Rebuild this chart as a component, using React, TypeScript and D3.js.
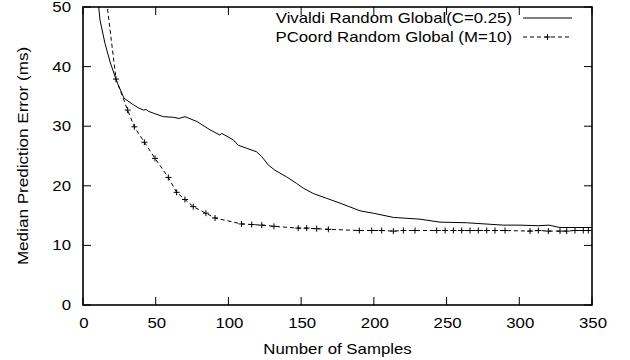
import React from 'react'
import * as d3 from 'd3'

// values
const vivaldiX = [9, 10.8, 11.7, 15.1, 18.6, 23.2, 28.2, 34.6, 38, 41.5, 43.5, 45, 48.3, 55.2, 62.1, 66, 70.1, 78.2, 87.3, 94.2, 95.4, 103.3, 106.8, 112.5, 119.4, 122.9, 127.4, 132, 140, 146.9, 151.5, 158.4, 167.5, 176.7, 190.5, 199.6, 213.4, 231.7, 245.5, 263.8, 289, 300.5, 313, 320.4, 328, 348.6, 350]
const vivaldiY = [54, 50, 47.8, 43.9, 40.8, 37.5, 34.7, 33.6, 33.1, 32.7, 32.8, 32.5, 32.2, 31.6, 31.5, 31.3, 31.6, 30.8, 29.4, 28.5, 28.8, 27.7, 26.8, 26.3, 25.7, 24.9, 23.5, 22.6, 21.5, 20.4, 19.6, 18.7, 17.9, 17.1, 15.8, 15.4, 14.7, 14.4, 13.9, 13.8, 13.4, 13.4, 13.3, 13.4, 13.0, 13.0, 13.0]

const pcoordX = [14, 22.7, 30.7, 35.3, 42.2, 49.5, 58.7, 64.4, 70.1, 75.8, 84.5, 90.8, 109, 116, 122.9, 131.3, 148, 153.8, 160.7, 168.7, 190, 198.5, 205.4, 213.4, 220.3, 228.3, 243.2, 249, 254.7, 260.4, 266.1, 271.8, 277.6, 283.3, 290.2, 307.4, 313.1, 320, 328, 332.6, 338.3, 344, 347.5]
const pcoordY = [55.5, 37.9, 32.7, 29.9, 27.3, 24.6, 21.4, 18.9, 17.7, 16.5, 15.4, 14.6, 13.6, 13.5, 13.4, 13.2, 12.9, 12.9, 12.8, 12.7, 12.5, 12.5, 12.5, 12.4, 12.5, 12.5, 12.5, 12.5, 12.5, 12.5, 12.5, 12.5, 12.5, 12.5, 12.5, 12.4, 12.5, 12.4, 12.4, 12.4, 12.5, 12.5, 12.5]

const xTicks = [0, 50, 100, 150, 200, 250, 300, 350]
const yTicks = [0, 10, 20, 30, 40, 50]
const seriesNames = ['Vivaldi Random Global(C=0.25)', 'PCoord Random Global (M=10)']

const W = 630
const H = 360
const margin = { top: 7, right: 38, bottom: 55, left: 83 }
const FONT = '"Liberation Sans", Arial, Helvetica, sans-serif'
const STRETCH = 1.2

// gnuplot text in the reference is a bit wide, so stretch along the run
function Label({ x, y, anchor = 'start', rotate = 0, sx = STRETCH, children }: any) {
  return (
    <text
      transform={`translate(${x},${y}) rotate(${rotate}) scale(${sx},1)`}
      textAnchor={anchor}
      fontFamily={FONT}
      fontSize={14}
      fill="#000"
    >
      {children}
    </text>
  )
}

export default function App() {
  const x = d3.scaleLinear().domain([0, 350]).range([margin.left, W - margin.right])
  const y = d3.scaleLinear().domain([0, 50]).range([H - margin.bottom, margin.top])

  const vivaldi = vivaldiX.map((v, i) => [v, vivaldiY[i]] as [number, number])
  const pcoord = pcoordX.map((v, i) => [v, pcoordY[i]] as [number, number])

  const line = d3.line<[number, number]>().x(d => x(d[0])).y(d => y(d[1]))

  const x0 = x(0), x1 = x(350), y0 = y(0), y1 = y(50)
  const TL = 8

  const plus = (cx: number, cy: number, r = 3) =>
    `M${cx - r},${cy}H${cx + r}M${cx},${cy - r}V${cy + r}`

  const legX = 512
  const legLine = [523, 572]
  const legY = [18, 37]

  return (
    <svg width={W} height={H} style={{ position: 'absolute', left: 0, top: 0, background: '#fff' }}>
      <defs>
        <clipPath id="plot">
          <rect x={x0} y={y1} width={x1 - x0} height={y0 - y1} />
        </clipPath>
      </defs>
      <rect width={W} height={H} fill="#fff" />

      {/* ticks on all four sides, pointing inward */}
      <g stroke="#000" strokeWidth={1}>
        {xTicks.map(t => (
          <g key={'xt' + t}>
            <line x1={x(t)} x2={x(t)} y1={y0} y2={y0 - TL} />
            <line x1={x(t)} x2={x(t)} y1={y1} y2={y1 + TL} />
          </g>
        ))}
        {yTicks.map(t => (
          <g key={'yt' + t}>
            <line x1={x0} x2={x0 + TL} y1={y(t)} y2={y(t)} />
            <line x1={x1} x2={x1 - TL} y1={y(t)} y2={y(t)} />
          </g>
        ))}
      </g>

      {xTicks.map(t => (
        <Label key={'xl' + t} x={x(t) + 1} y={328} anchor="middle">{t}</Label>
      ))}
      {yTicks.map(t => (
        <Label key={'yl' + t} x={71} y={y(t) + 5} anchor="end">{t}</Label>
      ))}

      <Label x={(x0 + x1) / 2} y={354} anchor="middle">Number of Samples</Label>
      <Label x={28} y={(y0 + y1) / 2} anchor="middle" rotate={-90} sx={1.22}>
        Median Prediction Error (ms)
      </Label>

      <g clipPath="url(#plot)" fill="none">
        <path d={line(vivaldi) || ''} stroke="#000" strokeWidth={1} />
        <path d={line(pcoord) || ''} stroke="#000" strokeWidth={1} strokeDasharray="4,3" />
        <path
          d={pcoord.map(d => plus(x(d[0]), y(d[1]))).join('')}
          stroke="#000"
          strokeWidth={1}
        />
      </g>

      {/* legend */}
      <Label x={legX} y={legY[0] + 5} anchor="end">{seriesNames[0]}</Label>
      <Label x={legX} y={legY[1] + 5} anchor="end">{seriesNames[1]}</Label>
      <line x1={legLine[0]} x2={legLine[1]} y1={legY[0]} y2={legY[0]} stroke="#000" strokeWidth={1} />
      <line x1={legLine[0]} x2={legLine[1]} y1={legY[1]} y2={legY[1]} stroke="#000" strokeWidth={1} strokeDasharray="4,3" />
      <path d={plus((legLine[0] + legLine[1]) / 2, legY[1])} stroke="#000" strokeWidth={1} />

      {/* frame */}
      <rect x={x0} y={y1} width={x1 - x0} height={y0 - y1} fill="none" stroke="#000" strokeWidth={1.6} />
    </svg>
  )
}
